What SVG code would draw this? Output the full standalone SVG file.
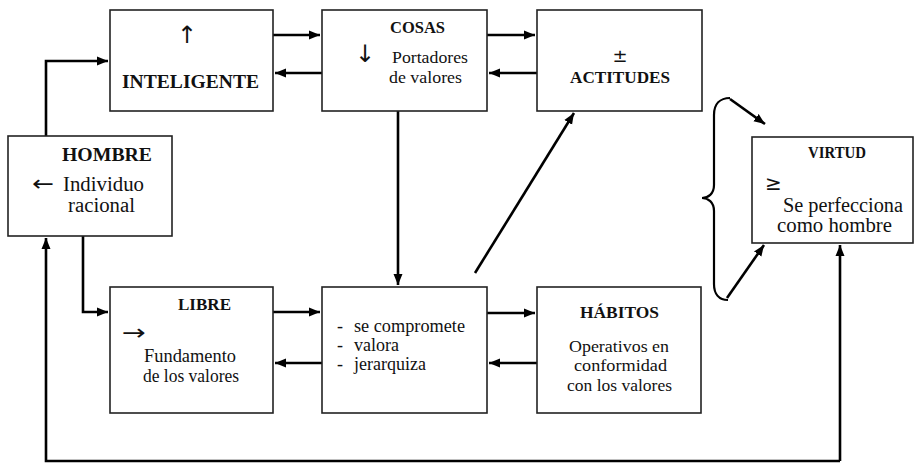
<svg xmlns="http://www.w3.org/2000/svg" width="915" height="463" viewBox="0 0 915 463">
<style>
.box{fill:#fff;stroke:#222;stroke-width:1.6}
.t{font-family:"Liberation Serif","DejaVu Serif","Times New Roman",serif;fill:#111}
.s{font-family:"DejaVu Sans","Liberation Sans",sans-serif;fill:#111}
.b{font-weight:bold}
.c{fill:none;stroke:#000;stroke-width:2.6}
</style>
<defs>
<marker id="ah" markerUnits="userSpaceOnUse" markerWidth="12" markerHeight="10" refX="11" refY="5" orient="auto">
<path d="M0,0.5 L11,5 L0,9.5 z" fill="#000"/>
</marker>
</defs>
<rect width="915" height="463" fill="#fff"/>
<g id="connectors">
<path class="c" d="M46,136 V61 H108" marker-end="url(#ah)"/>
<path class="c" d="M273,35 H320" marker-end="url(#ah)"/>
<path class="c" d="M322,73 H275" marker-end="url(#ah)"/>
<path class="c" d="M487,35 H535" marker-end="url(#ah)"/>
<path class="c" d="M537,73 H489" marker-end="url(#ah)"/>
<path class="c" d="M398,111 V285" marker-end="url(#ah)"/>
<path class="c" d="M475,273 L574,113" marker-end="url(#ah)"/>
<path class="c" d="M83,236 V312 H108" marker-end="url(#ah)"/>
<path class="c" d="M273,312 H320" marker-end="url(#ah)"/>
<path class="c" d="M322,363 H275" marker-end="url(#ah)"/>
<path class="c" d="M487,313 H535" marker-end="url(#ah)"/>
<path class="c" d="M537,363 H489" marker-end="url(#ah)"/>
<path class="c" d="M840,461 H46 V238" marker-end="url(#ah)"/>
<path class="c" d="M840,461 V245" marker-end="url(#ah)"/>
<path class="c" d="M730,99 L765,124" marker-end="url(#ah)"/>
<path class="c" d="M727,298 L764,245" marker-end="url(#ah)"/>
<path fill="none" stroke="#000" stroke-width="2.2" d="M730,98 C720,98 714,104 714,115 L714,185 C714,194 708,198 702,198 C708,198 714,202 714,211 L714,284 C714,294 719,300 728,300"/>
</g>
<g id="inteligente">
<rect class="box" x="110" y="10" width="163" height="101"/>
<text class="s" x="187" y="43" font-size="24" text-anchor="middle">↑</text>
<text class="t b" font-family="Liberation Serif, DejaVu Serif, serif" x="122" y="88" font-size="19" textLength="137" lengthAdjust="spacingAndGlyphs">INTELIGENTE</text>
</g>
<g id="cosas">
<rect class="box" x="322" y="10" width="165" height="101"/>
<text class="t b" font-family="Liberation Serif, DejaVu Serif, serif" x="390" y="33" font-size="16.5" textLength="55" lengthAdjust="spacingAndGlyphs">COSAS</text>
<text class="s" x="365" y="62" font-size="24" text-anchor="middle">↓</text>
<text class="t" font-family="Liberation Serif, DejaVu Serif, serif" x="392" y="63" font-size="17.5" textLength="76" lengthAdjust="spacingAndGlyphs">Portadores</text>
<text class="t" font-family="Liberation Serif, DejaVu Serif, serif" x="389" y="83" font-size="17.5" textLength="73" lengthAdjust="spacingAndGlyphs">de valores</text>
</g>
<g id="actitudes">
<rect class="box" x="537" y="10" width="165" height="101"/>
<text class="s" x="620" y="62" font-size="18" text-anchor="middle">±</text>
<text class="t b" font-family="Liberation Serif, DejaVu Serif, serif" x="570" y="83" font-size="17" textLength="100" lengthAdjust="spacingAndGlyphs">ACTITUDES</text>
</g>
<g id="hombre">
<rect class="box" x="8" y="136" width="164" height="100"/>
<text class="t b" font-family="Liberation Serif, DejaVu Serif, serif" x="62" y="161" font-size="19" textLength="90" lengthAdjust="spacingAndGlyphs">HOMBRE</text>
<text class="s" x="32" y="191" font-size="22" textLength="22" lengthAdjust="spacingAndGlyphs">←</text>
<text class="t" font-family="Liberation Serif, DejaVu Serif, serif" x="63" y="191" font-size="20" textLength="81" lengthAdjust="spacingAndGlyphs">Individuo</text>
<text class="t" font-family="Liberation Serif, DejaVu Serif, serif" x="68" y="212" font-size="20" textLength="67" lengthAdjust="spacingAndGlyphs">racional</text>
</g>
<g id="libre">
<rect class="box" x="110" y="287" width="163" height="126"/>
<text class="t b" font-family="Liberation Serif, DejaVu Serif, serif" x="178" y="310" font-size="17" textLength="53" lengthAdjust="spacingAndGlyphs">LIBRE</text>
<text class="s" x="122" y="340" font-size="22" textLength="24" lengthAdjust="spacingAndGlyphs">→</text>
<text class="t" font-family="Liberation Serif, DejaVu Serif, serif" x="144" y="362" font-size="18" textLength="92" lengthAdjust="spacingAndGlyphs">Fundamento</text>
<text class="t" font-family="Liberation Serif, DejaVu Serif, serif" x="143" y="382" font-size="18" textLength="96" lengthAdjust="spacingAndGlyphs">de los valores</text>
</g>
<g id="valora">
<rect class="box" x="322" y="287" width="165" height="126"/>
<text class="t" font-family="Liberation Serif, DejaVu Serif, serif" x="337" y="332" font-size="18">-</text>
<text class="t" font-family="Liberation Serif, DejaVu Serif, serif" x="354" y="332" font-size="18" textLength="111" lengthAdjust="spacingAndGlyphs">se compromete</text>
<text class="t" font-family="Liberation Serif, DejaVu Serif, serif" x="337" y="351" font-size="18">-</text>
<text class="t" font-family="Liberation Serif, DejaVu Serif, serif" x="354" y="351" font-size="18" textLength="45" lengthAdjust="spacingAndGlyphs">valora</text>
<text class="t" font-family="Liberation Serif, DejaVu Serif, serif" x="337" y="370" font-size="18">-</text>
<text class="t" font-family="Liberation Serif, DejaVu Serif, serif" x="354" y="370" font-size="18" textLength="72" lengthAdjust="spacingAndGlyphs">jerarquiza</text>
</g>
<g id="habitos">
<rect class="box" x="537" y="287" width="164" height="126"/>
<text class="t b" font-family="Liberation Serif, DejaVu Serif, serif" x="580" y="318" font-size="17" textLength="79" lengthAdjust="spacingAndGlyphs">HÁBITOS</text>
<text class="t" font-family="Liberation Serif, DejaVu Serif, serif" x="569" y="352" font-size="17.5" textLength="100" lengthAdjust="spacingAndGlyphs">Operativos en</text>
<text class="t" font-family="Liberation Serif, DejaVu Serif, serif" x="574" y="371" font-size="17.5" textLength="93" lengthAdjust="spacingAndGlyphs">conformidad</text>
<text class="t" font-family="Liberation Serif, DejaVu Serif, serif" x="567" y="391" font-size="17.5" textLength="105" lengthAdjust="spacingAndGlyphs">con los valores</text>
</g>
<g id="virtud">
<rect class="box" x="752" y="137" width="161" height="106"/>
<text class="t b" font-family="Liberation Serif, DejaVu Serif, serif" x="808" y="158" font-size="16" textLength="58" lengthAdjust="spacingAndGlyphs">VIRTUD</text>
<text class="s" x="765" y="190" font-size="20">≥</text>
<text class="t" font-family="Liberation Serif, DejaVu Serif, serif" x="783" y="212" font-size="20" textLength="120" lengthAdjust="spacingAndGlyphs">Se perfecciona</text>
<text class="t" font-family="Liberation Serif, DejaVu Serif, serif" x="777" y="232" font-size="20" textLength="115" lengthAdjust="spacingAndGlyphs">como hombre</text>
</g>
</svg>
